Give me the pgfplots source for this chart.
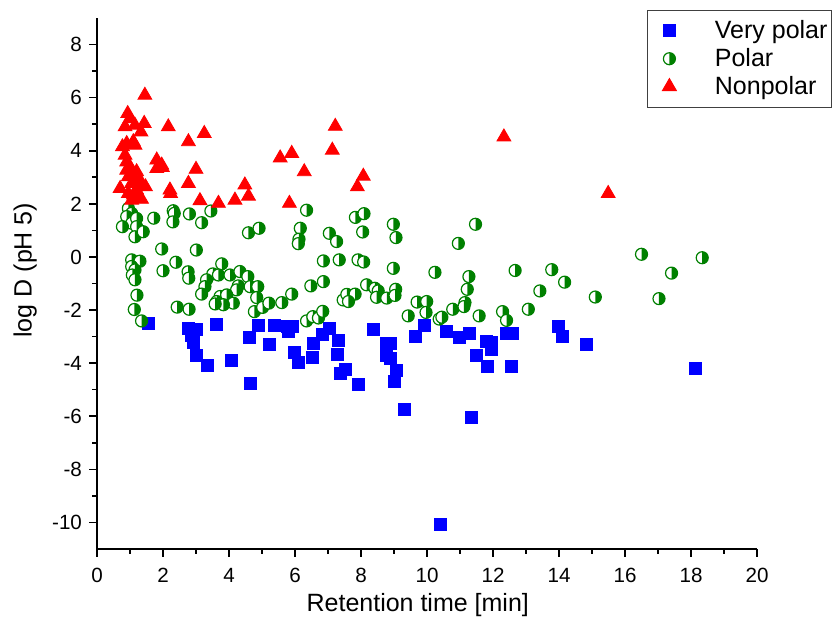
\documentclass[border=0pt]{standalone}
\usepackage{fontspec}
\setmainfont{Liberation Sans}
\usepackage{pgfplots}
\pgfplotsset{compat=1.18}

\definecolor{vpblue}{RGB}{0,0,255}
\definecolor{pgreen}{RGB}{0,128,0}
\definecolor{npred}{RGB}{255,0,0}

% circle, left half white, right half green
\pgfdeclareplotmark{halfright}{%
  \pgfpathcircle{\pgfpointorigin}{\pgfplotmarksize}%
  \pgfsetfillcolor{white}\pgfusepathqfill
  \pgfpathmoveto{\pgfqpoint{0pt}{\pgfplotmarksize}}%
  \pgfpatharc{90}{-90}{\pgfplotmarksize}%
  \pgfpathclose
  \pgfsetfillcolor{pgreen}\pgfusepathqfill
  \pgfpathcircle{\pgfpointorigin}{\pgfplotmarksize}%
  \pgfusepathqstroke
}

\begin{document}
\begin{tikzpicture}
\begin{axis}[
    scale only axis,
    width=330pt, height=265.5pt,
    xmin=0, xmax=20, ymin=-11, ymax=9,
    axis x line*=bottom, axis y line*=left,
    axis line style={-, line width=1pt},
    xtick={0,2,...,20}, ytick={-10,-8,...,8},
    minor tick num=1,
    tick align=outside,
    major tick length=4pt, minor tick length=2.5pt,
    tick style={black, line width=0.8pt},
    every tick label/.append style={font=\fontsize{10.3}{12}\selectfont},
    xticklabel style={yshift=-2pt},
    /pgf/number format/assume math mode=true,
    xlabel={Retention time [min]},
    ylabel={log D (pH 5)},
    label style={font=\fontsize{12.5}{15}\selectfont},
    xlabel style={at={(axis description cs:0.486,-0.105)}, anchor=center},
    ylabel style={at={(axis description cs:-0.109,0.525)}, anchor=center},
    clip=false,
    legend style={at={(rel axis cs:1.1136,1.0155)}, anchor=north east,
        draw=black!75, line width=0.5pt, font=\fontsize{12.5}{15}\selectfont,
        row sep=-0.6pt, inner xsep=0pt, inner ysep=3pt},
    legend cell align=left,
    legend image code/.code={%
        \path (0pt,0pt) (31pt,0pt);
        \draw[mark repeat=2,mark phase=2,#1] plot coordinates {(0pt,0pt) (10.5pt,0pt) (21pt,0pt)};},
]
\path (rel axis cs:-0.147,-0.1657) rectangle (rel axis cs:1.1197,1.0339);

\addplot[only marks, mark=square*, mark size=3pt, color=vpblue] coordinates {
(1.55,-2.52) (2.77,-2.71) (3.02,-2.73) (2.87,-2.96) (2.93,-3.21) (3.61,-2.54)
(3.02,-3.71) (3.33,-4.07) (4.06,-3.91) (4.62,-3.03) (4.90,-2.56) (5.38,-2.59)
(5.21,-3.31) (4.64,-4.77) (5.78,-2.62) (5.91,-2.61) (5.79,-2.81) (5.98,-3.60)
(6.09,-3.96) (6.54,-3.77) (6.57,-3.27) (6.83,-2.93) (7.05,-2.71) (7.31,-3.15)
(7.29,-3.66) (7.39,-4.40) (7.54,-4.24) (7.92,-4.80) (8.38,-2.74) (8.76,-3.27)
(8.88,-3.27) (8.76,-3.72) (8.88,-3.83) (9.07,-4.27) (9.01,-4.70) (9.31,-5.75)
(9.92,-2.56) (9.66,-2.98) (10.58,-2.82) (10.97,-3.02) (11.28,-2.87) (11.81,-3.17)
(11.96,-3.22) (11.95,-3.47) (11.51,-3.70) (11.83,-4.14) (12.57,-4.14) (12.41,-2.87)
(12.60,-2.87) (11.36,-6.03) (10.42,-10.06) (13.98,-2.63) (14.11,-3.01) (14.84,-3.28)
(18.12,-4.20)
};
\addlegendentry{Very polar}

\addplot[only marks, mark=halfright, mark size=3pt, color=pgreen,
    mark options={line width=0.6pt}] coordinates {
(0.95,1.83) (1.05,1.64) (0.90,1.52) (1.05,1.27) (0.77,1.14) (1.20,1.45) (1.20,1.14)
(1.15,0.76) (1.40,0.95) (1.72,1.46) (2.31,1.74) (2.34,1.64) (2.30,1.32) (2.80,1.62)
(3.17,1.29) (3.45,1.73) (4.59,0.91) (4.91,1.08) (1.96,0.30) (3.01,0.26)
(1.05,-0.11) (1.30,-0.16) (1.05,-0.36) (1.15,-0.49) (1.07,-0.68) (1.15,-0.86)
(1.21,-1.44) (1.13,-1.98) (1.35,-2.41) (2.00,-0.52) (2.39,-0.20) (2.76,-0.56)
(2.78,-0.80) (2.43,-1.89) (2.79,-1.97) (3.78,-0.26) (3.51,-0.64) (3.68,-0.68)
(4.03,-0.68) (4.33,-0.55) (4.57,-0.74) (3.32,-0.86) (3.27,-1.12) (3.17,-1.40)
(4.28,-1.09) (4.23,-1.24) (3.73,-1.49) (3.63,-1.68) (3.93,-1.43) (4.13,-1.74)
(3.83,-1.80) (3.58,-1.77) (4.64,-1.12) (4.87,-1.12) (4.84,-1.53) (4.77,-2.06)
(5.02,-1.90) (5.21,-1.74) (5.60,-1.72) (5.90,-1.40) (6.35,1.76) (6.16,1.08)
(6.12,0.67) (6.10,0.50) (7.04,0.89) (7.26,0.58) (7.83,1.49) (8.09,1.63) (8.05,0.94)
(8.98,1.23) (9.06,0.73) (11.47,1.23) (10.95,0.51) (6.48,-1.09) (6.86,-0.93)
(6.86,-0.15) (7.34,-0.11) (7.91,-0.11) (8.08,-0.19) (6.35,-2.41) (6.54,-2.25)
(6.71,-2.30) (6.84,-2.05) (7.46,-1.62) (7.57,-1.41) (7.82,-1.40) (7.62,-1.68)
(8.17,-1.05) (8.42,-1.18) (8.52,-1.28) (8.47,-1.52) (8.78,-1.55) (9.05,-1.22)
(9.03,-1.45) (8.98,-0.43) (10.24,-0.58) (11.27,-0.74) (11.22,-1.22) (12.67,-0.51)
(13.78,-0.48) (14.17,-0.95) (13.42,-1.28) (15.10,-1.51) (9.70,-1.70) (9.99,-1.68)
(9.97,-2.09) (9.43,-2.22) (10.37,-2.34) (10.45,-2.27) (10.78,-1.97) (11.15,-1.72)
(11.12,-1.87) (11.58,-2.22) (12.29,-2.06) (12.41,-2.39) (13.07,-1.97)
(16.50,0.10) (18.34,-0.03) (17.41,-0.61) (17.03,-1.57)
};
\addlegendentry{Polar}

\addplot[only marks, mark=triangle*, mark size=4pt, color=npred] coordinates {
(1.45,6.09) (0.93,5.40) (1.00,5.21) (0.85,4.90) (1.15,4.96) (1.43,5.03) (1.33,4.71)
(2.16,4.90) (3.25,4.65) (2.77,4.34) (0.77,4.15) (0.90,4.27) (1.10,4.34) (1.15,4.21)
(0.85,3.83) (0.90,3.58) (1.00,3.39) (0.90,3.27) (1.05,3.14) (1.20,3.21) (0.95,3.02)
(1.15,2.89) (1.30,2.89) (1.05,2.77) (1.35,2.71) (1.47,2.64) (1.20,2.52) (0.95,2.39)
(1.10,2.33) (1.25,2.24) (1.35,2.17) (1.05,2.14) (0.70,2.58)
(1.81,3.65) (1.96,3.46) (1.81,3.33) (1.98,3.37) (3.00,3.30) (2.77,2.77) (2.21,2.52)
(2.23,2.39) (3.12,2.12) (3.68,2.02) (4.18,2.14) (4.48,2.71) (4.59,2.29)
(5.55,3.73) (5.90,3.90) (5.83,2.02) (6.28,3.21) (7.13,4.02) (7.22,4.92)
(7.89,2.64) (8.07,3.04) (12.33,4.52) (15.49,2.39)
};
\addlegendentry{Nonpolar}
\end{axis}
\end{tikzpicture}
\end{document}
